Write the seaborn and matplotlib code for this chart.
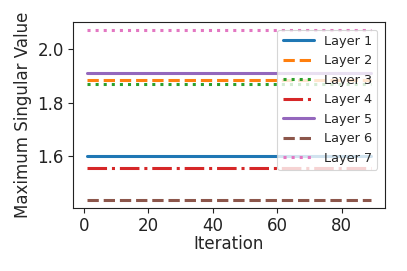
import numpy as np
import pandas as pd
import matplotlib
matplotlib.use("Agg")
import matplotlib.pyplot as plt
import seaborn as sns

layers = ["Layer 1", "Layer 2", "Layer 3", "Layer 4", "Layer 5", "Layer 6", "Layer 7"]
values = [1.601, 1.883, 1.871, 1.554, 1.912, 1.436, 2.070]
iterations = list(range(1, 90))

rows = []
for name, v in zip(layers, values):
    for it in iterations:
        rows.append({"Iteration": it, "Value": v, "Layer": name})
df = pd.DataFrame(rows)

sns.set_theme(style="ticks", palette="tab10")
plt.rcParams["font.family"] = ["DejaVu Sans"]
plt.rcParams["axes.edgecolor"] = "#222222"
plt.rcParams["xtick.color"] = "#222222"
plt.rcParams["ytick.color"] = "#222222"

fig = plt.figure(figsize=(4.07, 2.71), dpi=100)
ax = fig.add_axes([0.179, 0.231, 0.767, 0.688])

dashes = {
    "Layer 1": "",
    "Layer 2": (3.7, 1.6),
    "Layer 3": (1, 1.65),
    "Layer 4": (6.4, 1.6, 1, 1.6),
    "Layer 5": "",
    "Layer 6": (3.7, 1.6),
    "Layer 7": (1, 1.65),
}
sns.lineplot(data=df, x="Iteration", y="Value", hue="Layer", style="Layer",
             dashes=dashes, linewidth=2.2, ax=ax, hue_order=layers, style_order=layers)

ax.set_xlabel("Iteration", fontsize=12, labelpad=-0.5)
ax.set_ylabel("Maximum Singular Value", fontsize=12)
ax.tick_params(labelsize=12, length=3.5, width=0.8, pad=3)
ax.set_xticks([0, 20, 40, 60, 80])
ax.set_yticks([1.6, 1.8, 2.0])
for s in ax.spines.values():
    s.set_linewidth(0.8)
leg = ax.legend(loc="upper right", fontsize=9.3, frameon=True, framealpha=0.8,
                handlelength=2.4, borderaxespad=0.6)
leg.get_frame().set_edgecolor("#cccccc")
leg.get_frame().set_linewidth(0.8)
for l in leg.get_lines():
    l.set_linewidth(2.2)

fig.savefig("out.png", dpi=100)
